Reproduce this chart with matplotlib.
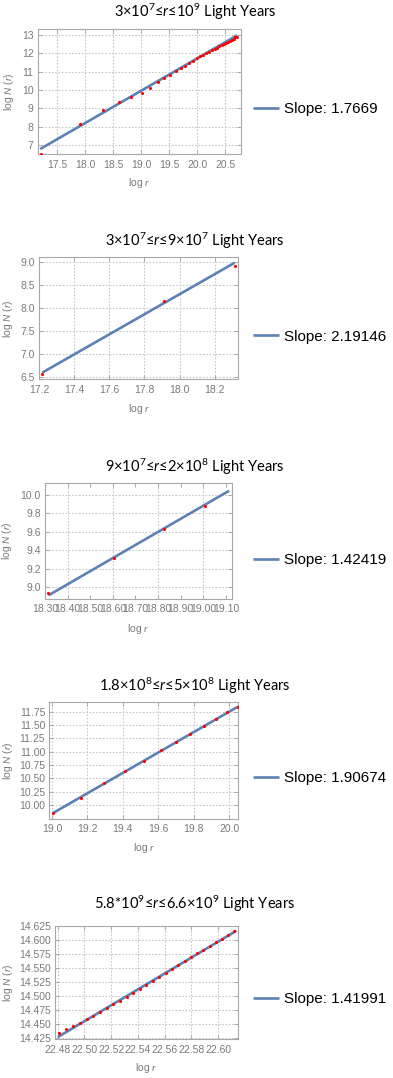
import numpy as np
import matplotlib
matplotlib.use('Agg')
import matplotlib.pyplot as plt
from matplotlib.ticker import FixedLocator, FormatStrFormatter

plt.rcParams['font.family'] = ['Liberation Sans', 'DejaVu Sans']
plt.rcParams['mathtext.fontset'] = 'custom'
plt.rcParams['mathtext.rm'] = 'Lato'
plt.rcParams['mathtext.it'] = 'Lato:italic'

# ---- data (x = ln r, y = ln N(r)) ----
x1 = [17.217, 17.909, 18.315, 18.603, 18.826, 19.008, 19.163, 19.296, 19.414,
      19.519, 19.615, 19.702, 19.782, 19.856, 19.925, 19.990, 20.050, 20.107,
      20.161, 20.212, 20.261, 20.308, 20.352, 20.395, 20.436, 20.475, 20.513,
      20.549, 20.584, 20.618, 20.651, 20.682, 20.713]
y1 = [6.52, 8.15, 8.93, 9.32, 9.63, 9.85, 10.13, 10.41, 10.64,
      10.83, 11.03, 11.18, 11.33, 11.48, 11.61, 11.74, 11.84, 11.93,
      12.02, 12.08, 12.16, 12.24, 12.31, 12.38, 12.45, 12.51, 12.57,
      12.63, 12.69, 12.75, 12.81, 12.87, 12.92]

x2 = [17.217, 17.909, 18.315]
y2 = [6.55, 8.15, 8.93]

x3 = [18.315, 18.603, 18.826, 19.008]
y3 = [8.93, 9.32, 9.63, 9.88]

x4 = [19.008, 19.163, 19.296, 19.414, 19.519, 19.615, 19.702, 19.782,
      19.856, 19.925, 19.990, 20.050]
y4 = [9.85, 10.13, 10.41, 10.64, 10.83, 11.03, 11.18, 11.33,
      11.48, 11.61, 11.74, 11.84]

x5 = [22.4811, 22.4863, 22.4914, 22.4965, 22.5016, 22.5067, 22.5117, 22.5167,
      22.5217, 22.5266, 22.5316, 22.5365, 22.5413, 22.5462, 22.5510, 22.5558,
      22.5606, 22.5654, 22.5701, 22.5749, 22.5796, 22.5842, 22.5889, 22.5935,
      22.5981, 22.6027, 22.6073, 22.6119]
y5 = [14.4339, 14.4416, 14.4470, 14.4523, 14.4594, 14.4648, 14.4719, 14.4790,
      14.4861, 14.4921, 14.4992, 14.5063, 14.5134, 14.5206, 14.5277, 14.5348,
      14.5419, 14.5490, 14.5562, 14.5633, 14.5704, 14.5769, 14.5829, 14.5900,
      14.5965, 14.6024, 14.6090, 14.6161]

slopes = [1.7669, 2.19146, 1.42419, 1.90674, 1.41991]
intercepts = [-23.611, -31.144, -17.175, -26.387, -17.4927]
fit_ranges = [(17.2, 20.713), (17.217, 18.315), (18.315, 19.114),
              (19.008, 20.05), (22.48, 22.6137)]

titles = ['3\u00d710$^{7}$\u2264$r$\u226410$^{9}$ Light Years',
          '3\u00d710$^{7}$\u2264$r$\u22649\u00d710$^{7}$ Light Years',
          '9\u00d710$^{7}$\u2264$r$\u22642\u00d710$^{8}$ Light Years',
          '1.8\u00d710$^{8}$\u2264$r$\u22645\u00d710$^{8}$ Light Years',
          '5.8*10$^{9}$\u2264$r$\u22646.6\u00d710$^{9}$ Light Years']

xticks = [[17.5, 18.0, 18.5, 19.0, 19.5, 20.0, 20.5],
          [17.2, 17.4, 17.6, 17.8, 18.0, 18.2],
          [18.4, 18.6, 18.8, 19.0],
          [19.0, 19.2, 19.4, 19.6, 19.8, 20.0],
          [22.48, 22.50, 22.52, 22.54, 22.56, 22.58, 22.60]]
xticks_extra = [[], [], [18.3, 18.5, 18.7, 18.9, 19.1], [], []]
yticks = [[7, 8, 9, 10, 11, 12, 13],
          [6.5, 7.0, 7.5, 8.0, 8.5, 9.0],
          [9.0, 9.2, 9.4, 9.6, 9.8, 10.0],
          [10.0, 10.25, 10.5, 10.75, 11.0, 11.25, 11.5, 11.75],
          [14.425, 14.45, 14.475, 14.5, 14.525, 14.55, 14.575, 14.6, 14.625]]
xfmt = ['%.1f', '%.1f', '%.2f', '%.1f', '%.2f']
yfmt = ['%d', '%.1f', '%.1f', '%.2f', '%.3f']
xlims = [(17.155, 20.775), (17.2, 18.335), (18.30, 19.128), (18.985, 20.052), (22.478, 22.615)]
ylims = [(6.49, 13.33), (6.44, 9.11), (8.873, 10.128), (9.747, 11.93), (14.423, 14.626)]

xs_all = [x1, x2, x3, x4, x5]
ys_all = [y1, y2, y3, y4, y5]

# ---- layout in pixels (top-left origin) ----
W, H = 393, 1078
boxes = [(37.7, 29, 240.7, 154.3), (39.3, 257.3, 238.3, 379.3),
         (45, 483.3, 232.3, 598.7), (49.3, 702, 238.3, 818.7),
         (55, 925.5, 238.3, 1039.3)]
title_y = [12.3, 240.7, 466.7, 686, 904.3]
xlabel_y = [182.7, 409.3, 629, 848.3, 1068.3]
ylabel_x = [9, 8, 7, 8, 8]
legend_y = [109, 336.7, 560, 778.3, 999.3]

blue = '#5e81b5'
grid_c = '#c8c8c8'
frame_c = '#a8a8a8'
label_c = '#7a7a7a'

fig = plt.figure(figsize=(W / 100, H / 100), dpi=100)

for i in range(5):
    l, t, r, b = boxes[i]
    ax = fig.add_axes([l / W, 1 - b / H, (r - l) / W, (b - t) / H])

    fx = np.array(fit_ranges[i])
    line, = ax.plot(fx, intercepts[i] + slopes[i] * fx, color=blue, lw=1.9,
                    solid_capstyle='butt', zorder=3)
    ax.scatter(xs_all[i], ys_all[i], s=5, color='red', lw=0, zorder=4)

    ax.set_xlim(*xlims[i])
    ax.set_ylim(*ylims[i])
    ax.xaxis.set_major_locator(FixedLocator(xticks[i]))
    ax.xaxis.set_major_formatter(FormatStrFormatter(xfmt[i]))
    if xticks_extra[i]:
        ax.xaxis.set_minor_locator(FixedLocator(xticks_extra[i]))
        ax.xaxis.set_minor_formatter(FormatStrFormatter(xfmt[i]))
    ax.yaxis.set_major_locator(FixedLocator(yticks[i]))
    ax.yaxis.set_major_formatter(FormatStrFormatter(yfmt[i]))

    ax.grid(True, which='major', color=grid_c, ls=(0, (1.5, 1.5)), lw=0.8)
    ax.set_axisbelow(True)
    ax.tick_params(which='both', direction='in', length=3, width=0.7,
                   color=frame_c, labelcolor=label_c, labelsize=7.5,
                   top=True, right=True)
    ax.tick_params(axis='x', which='both', pad=4)
    ax.tick_params(axis='y', which='both', pad=3)
    for s in ax.spines.values():
        s.set_color(frame_c)
        s.set_linewidth(0.8)

    ax.set_xlabel(r'log $r$', color=label_c, fontsize=7.5)
    ax.set_ylabel(r'log $N$ ($r$)', color=label_c, fontsize=7.5)
    ax.xaxis.set_label_coords(0.5, (b - xlabel_y[i]) / (b - t))
    ax.xaxis.label.set_va('center')
    ax.yaxis.set_label_coords((ylabel_x[i] - l) / (r - l), 0.5)
    ax.yaxis.label.set_va('center')

    fig.text(195 / W, 1 - title_y[i] / H, titles[i], ha='center', va='center',
             fontsize=10.5, family=['Lato', 'DejaVu Sans'], color='black')

    ax.legend([line], ['Slope: %s' % slopes[i]], loc='center left',
              bbox_to_anchor=(253 / W, 1 - legend_y[i] / H),
              bbox_transform=fig.transFigure, frameon=False,
              borderpad=0, borderaxespad=0, handlelength=1.7,
              handletextpad=0.35, fontsize=11)

fig.savefig('out.png', dpi=100)
